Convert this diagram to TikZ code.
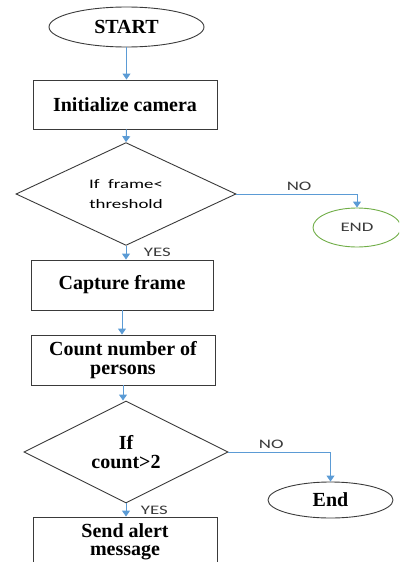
\documentclass[tikz,border=0pt]{standalone}
\usepackage{fontspec}
\setmainfont{Liberation Serif}[BoldFont={Liberation Serif Bold}]
\newfontfamily\calib{Carlito}[FakeStretch=1.45]
\usepackage{xcolor}
\usetikzlibrary{shapes,arrows.meta,positioning,calc}
\definecolor{flowblue}{HTML}{5B9BD5}
\definecolor{endgreen}{HTML}{70AD47}
\definecolor{edgegray}{HTML}{3A3A3A}

\begin{document}
\begin{tikzpicture}[x=1pt, y=-1pt,
    term/.style={ellipse, draw=edgegray, line width=0.9pt, inner sep=0pt},
    proc/.style={rectangle, draw=edgegray, line width=0.9pt, inner sep=0pt, align=center},
    cond/.style={diamond, draw=edgegray, line width=0.9pt, inner sep=0pt, align=center},
    serif/.style={font=\fontsize{20}{18.5}\selectfont\bfseries},
    sans/.style={font=\calib\fontsize{13}{20}\selectfont, text=edgegray},
    flow/.style={draw=flowblue, line width=1pt, -{Triangle[width=8pt,length=6pt]}}]
    \useasboundingbox (0,0) rectangle (399,562);
    \clip (0,0) rectangle (399,562);
    % terminals
    \node[term, serif, minimum width=155, minimum height=40] (start) at (126.5,27) {START};
    \node[term, sans, draw=endgreen, minimum width=88, minimum height=39] (end1) at (357,227.5) {END};
    \node[term, serif, minimum width=125, minimum height=36] (end2) at (330.5,500) {End};
    % process boxes
    \node[proc, serif, minimum width=184, minimum height=49] (init) at (125,104.5) {Initialize camera};
    \node[proc, serif, minimum width=182, minimum height=50] (capture) at (122,285) {Capture frame};
    \node[proc, serif, minimum width=184, minimum height=50] (count) at (123,360) {Count number of\\persons};
    \node[proc, serif, minimum width=184, minimum height=50] (alert) at (125,542) {Send alert\\message};
    % decisions
    \node[cond, sans, text=black, minimum width=220, minimum height=84] (frame) at (126,194) {If\ \ frame<\\threshold};
    \node[cond, serif, minimum width=204, minimum height=88] (persons) at (126,452) {If\\count>2};
    % connectors
    \draw[flow] (start.south) -- (start.south |- init.north);
    \draw[flow] (init.south -| start.south) -- (frame.north);
    \draw[flow] (frame.south) -- (frame.south |- capture.north) node[midway, right, xshift=14pt, sans] {YES};
    \draw[flow] (capture.south) -- (capture.south |- count.north);
    \draw[flow] (count.south) -- (count.south |- persons.north);
    \draw[flow] (persons.south) -- (persons.south |- alert.north) node[midway, right, xshift=11pt, sans] {YES};
    \draw[flow] (frame.east) -| (end1.north) node[pos=0.26, above, sans] {NO};
    \draw[flow] (persons.east) -| (end2.north) node[pos=0.21, above, sans] {NO};
\end{tikzpicture}
\end{document}
